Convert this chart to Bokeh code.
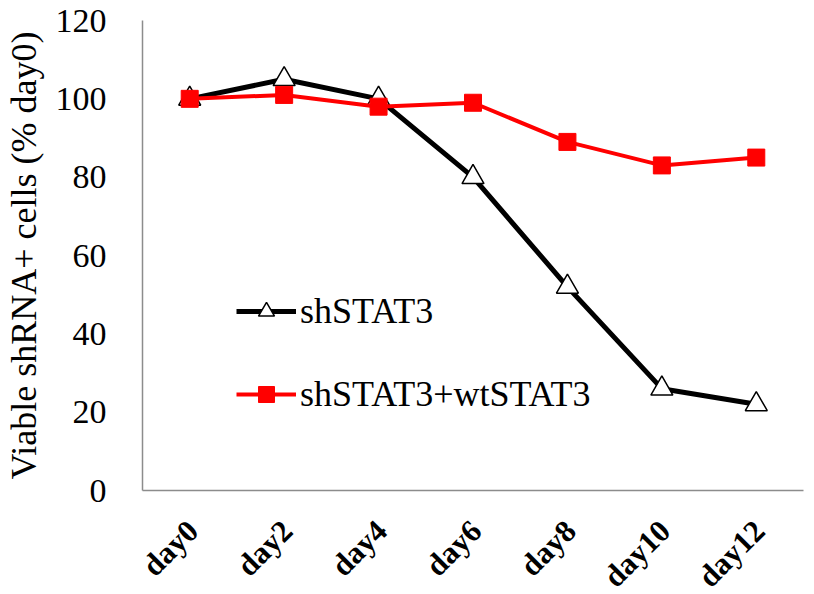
import math
from bokeh.plotting import figure
from bokeh.layouts import column
from bokeh.models import (Legend, LegendItem, Range1d, FactorRange, FixedTicker)
from bokeh.core.properties import value
from bokeh.embed import file_html
from bokeh.resources import INLINE

days = ["day0", "day2", "day4", "day6", "day8", "day10", "day12"]
sh_stat3 = [100, 105, 100, 80, 52, 26, 22]
sh_wt_stat3 = [100, 101, 98, 99, 89, 83, 85]
y_ticks = [0, 20, 40, 60, 80, 100, 120]

FONT = "Liberation Serif"
W = 806
TOP = 20
FRAME_H = 470
BOTTOM = 20
H_MAIN = TOP + FRAME_H + BOTTOM
H_LAB = 83
LABEL_DROP = 35   # px below the x axis for the rotated day labels

x_range = FactorRange(*days, range_padding=0)

p = figure(width=W, height=H_MAIN, x_range=x_range,
           y_range=Range1d(0, 120), output_backend="svg", toolbar_location=None,
           min_border_left=135, min_border_top=TOP, min_border_bottom=BOTTOM,
           min_border_right=3)
p.outline_line_color = None
p.xgrid.visible = False
p.ygrid.visible = False

r1l = p.line(days, sh_stat3, line_color="black", line_width=5)
r1m = p.scatter(days, sh_stat3, marker="triangle", size=22, fill_color="white",
                line_color="black", line_width=1.5)
r2l = p.line(days, sh_wt_stat3, line_color="#ff0000", line_width=4)
r2m = p.scatter(days, sh_wt_stat3, marker="square", size=17, fill_color="#ff0000",
                line_color="#ff0000")

p.yaxis.ticker = FixedTicker(ticks=y_ticks)
for ax in (p.xaxis[0], p.yaxis[0]):
    ax.axis_line_color = "#8c8c8c"
    ax.axis_line_width = 1.5
    ax.major_tick_line_color = None
    ax.minor_tick_line_color = None
    ax.major_label_text_font = FONT
    ax.major_label_text_color = "black"

p.yaxis.major_label_text_font_size = "34px"
p.yaxis.major_label_standoff = 30
p.yaxis.axis_label = "Viable shRNA+ cells (% day0)"
p.yaxis.axis_label_text_font = FONT
p.yaxis.axis_label_text_font_size = "36px"
p.yaxis.axis_label_text_font_style = "normal"
p.yaxis.axis_label_text_color = "black"
p.yaxis.axis_label_standoff = 9

# x axis: line only here; the rotated day labels are drawn in the strip below
p.xaxis.ticker = FixedTicker(ticks=[])
p.xaxis.major_label_standoff = 0

legend = Legend(items=[LegendItem(label="shSTAT3", renderers=[r1l, r1m]),
                       LegendItem(label="shSTAT3+wtSTAT3", renderers=[r2l, r2m])],
                location=(94, 75), padding=0, margin=0, spacing=41,
                glyph_width=60, glyph_height=40, label_height=40,
                label_standoff=4, label_text_font=FONT,
                label_text_font_size="36px", label_text_color="black",
                border_line_color=None, background_fill_alpha=0)
p.add_layout(legend)

# strip below the chart holding the rotated category labels
p2 = figure(width=W, height=H_LAB, x_range=x_range, y_range=Range1d(-H_LAB, 0),
            output_backend="svg", toolbar_location=None,
            x_axis_location=None, y_axis_location=None,
            min_border_left=135, min_border_right=3, min_border_top=0,
            min_border_bottom=0)
p2.outline_line_color = None
p2.xgrid.visible = False
p2.ygrid.visible = False
p2.text(x=days, y=[-(LABEL_DROP - BOTTOM)] * len(days), text=days,
        angle=math.pi / 4, text_align="right", text_baseline="middle",
        x_offset=3, text_font=value(FONT), text_font_style="bold",
        text_font_size="31px", text_color="black")

layout = column(p, p2, spacing=0)
open("out.html", "w").write(file_html(layout, INLINE))
